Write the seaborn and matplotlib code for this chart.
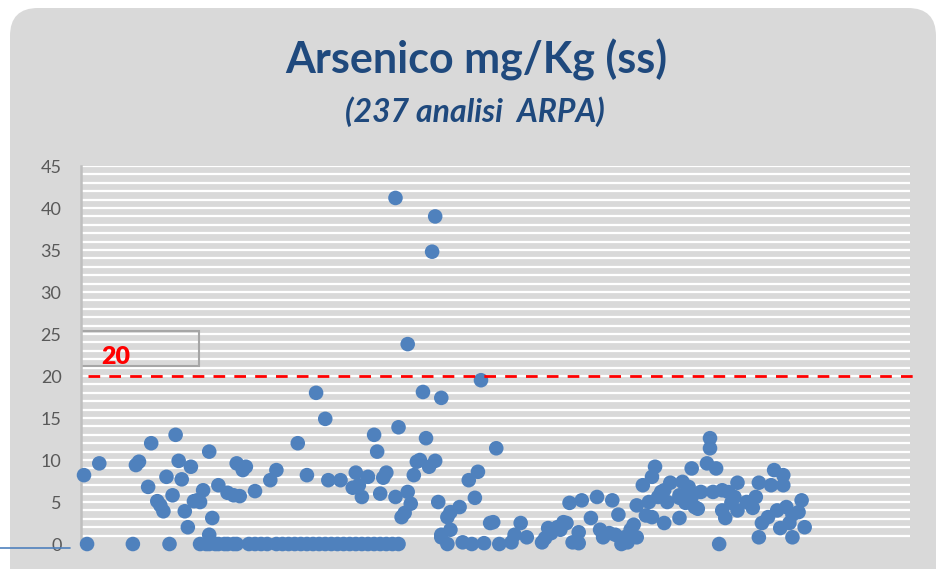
import pandas as pd
import matplotlib
matplotlib.use('Agg')
import matplotlib.pyplot as plt
import seaborn as sns
from matplotlib.patches import FancyBboxPatch, Rectangle
from matplotlib.lines import Line2D
from matplotlib.transforms import IdentityTransform

# Dati: numero progressivo del campione e arsenico (mg/Kg ss)
campione = [
    1, 2, 6, 17, 18, 19, 22, 23, 25, 26, 27, 28, 29, 30, 31, 32, 33, 34, 35, 36,
    37, 38, 39, 39, 40, 41, 42, 42, 42, 43, 44, 45, 45, 47, 48, 48, 50, 50, 51, 51,
    52, 53, 54, 55, 57, 57, 59, 61, 62, 64, 64, 66, 68, 70, 71, 72, 74, 74, 76, 77,
    78, 80, 80, 81, 82, 84, 85, 86, 88, 89, 90, 90, 91, 92, 92, 94, 94, 96, 96, 97,
    98, 98, 99, 100, 100, 102, 103, 103, 104, 104, 105, 106, 107, 107, 108, 109, 110, 111, 112, 113,
    114, 115, 116, 116, 117, 118, 118, 118, 120, 120, 121, 121, 124, 125, 127, 128, 129, 130, 131, 132,
    134, 135, 136, 137, 141, 142, 144, 146, 151, 152, 153, 154, 156, 157, 158, 159, 160, 161, 163, 163,
    164, 167, 169, 170, 171, 173, 174, 175, 176, 177, 178, 179, 180, 181, 182, 182, 184, 185, 186, 187,
    187, 188, 189, 190, 191, 191, 192, 193, 196, 196, 196, 197, 198, 198, 199, 199, 200, 200, 201, 202,
    203, 205, 206, 206, 207, 208, 209, 210, 210, 211, 212, 213, 214, 215, 215, 218, 220, 221, 222, 222,
    223, 225, 226, 227, 228, 229, 230, 230, 231, 232, 233, 233, 235, 236, 237,
]
arsenico = [
    8.2, 0, 9.6, 0, 9.4, 9.8, 6.8, 12.0, 5.1, 4.6, 3.9, 8.0, 0, 5.8, 13.0, 9.9, 7.7, 3.9, 2.0, 9.2,
    5.1, 5.2, 5.0, 0, 6.4, 0, 11.0, 1.1, 0, 3.1, 0, 7.0, 0, 0, 6.1, 0, 5.8, 0, 9.6, 0,
    5.7, 8.8, 9.2, 0, 6.3, 0, 0, 0, 7.6, 8.8, 0, 0, 0, 0, 12.0, 0, 8.2, 0, 0, 18.0,
    0, 14.9, 0, 7.6, 0, 0, 7.6, 0, 0, 6.7, 8.5, 0, 7.0, 5.6, 0, 8.0, 0, 13.0, 0, 11.0,
    6.0, 0, 7.9, 8.5, 0, 0, 41.2, 5.6, 13.9, 0, 3.2, 3.7, 6.2, 23.8, 4.8, 8.2, 9.8, 10.0, 18.1, 12.6,
    9.2, 34.8, 39.0, 9.9, 5.0, 17.4, 1.1, 0.8, 0, 3.2, 3.8, 1.7, 4.4, 0.2, 7.6, 0, 5.5, 8.6, 19.5, 0.1,
    2.5, 2.6, 11.4, 0, 0.2, 1.1, 2.5, 0.8, 0.2, 0.7, 1.9, 1.3, 2.0, 1.7, 2.6, 2.5, 4.9, 0.2, 1.4, 0.1,
    5.2, 3.1, 5.6, 1.7, 0.8, 1.3, 5.2, 1.1, 3.5, 0, 0.8, 0.2, 1.7, 2.3, 0.8, 4.6, 7.0, 3.4, 5.0, 8.0,
    3.2, 9.2, 5.6, 6.2, 6.4, 2.5, 5.0, 7.3, 5.5, 3.1, 5.8, 7.4, 5.8, 4.9, 6.8, 5.2, 9.0, 5.6, 4.4, 4.2,
    6.2, 9.6, 12.6, 11.4, 6.2, 9.0, 0, 6.4, 4.0, 3.1, 6.2, 4.9, 5.6, 7.3, 4.0, 5.0, 4.3, 5.6, 7.3, 0.8,
    2.5, 3.2, 7.0, 8.8, 4.0, 1.9, 8.2, 7.0, 4.4, 2.5, 3.5, 0.8, 3.8, 5.2, 2.0,
]
limite = 20
y_ticks = [0, 5, 10, 15, 20, 25, 30, 35, 40, 45]

df = pd.DataFrame({'campione': campione, 'arsenico': arsenico})

sns.set_style('white')
plt.rcParams['font.family'] = ['Lato', 'DejaVu Sans']

grigio = '#d9d9d9'
blu_titolo = '#1f497d'

fig = plt.figure(figsize=(9.37, 5.69), dpi=100, facecolor='white')

# pannello grigio con angoli arrotondati
pannello = FancyBboxPatch((10, -30), 926, 591, boxstyle='round,pad=0,rounding_size=28',
                          facecolor=grigio, edgecolor='none', transform=IdentityTransform(),
                          zorder=-5)
fig.add_artist(pannello)
fig.add_artist(Line2D([0, 0.075], [0.037, 0.037], color='#4f81bd', lw=1.2))

ax = fig.add_axes([0.0864, 0.0439, 0.8848, 0.6643])
ax.set_facecolor(grigio)

# griglia orizzontale bianca ogni unità
for v in range(1, 46):
    ax.axhline(v, color='white', lw=1.6, zorder=1)

sns.scatterplot(data=df, x='campione', y='arsenico', ax=ax, s=110, color='#4f81bd',
                edgecolor='none', linewidth=0, zorder=3, clip_on=False, legend=False)

ax.plot([2.3, 274], [limite, limite], color='#ff0000', lw=2, ls=(0, (4.2, 3.3)),
        zorder=4, clip_on=False)
ax.add_patch(Rectangle((0, 21.2), 38.6, 4.2, fill=False, edgecolor='#a6a6a6', lw=1.5, zorder=2))
ax.text(11.3, 22.3, str(limite), color='#ff0000', fontsize=18, fontweight='heavy',
        ha='center', va='center', zorder=5)

ax.set_xlim(0, 271.5)
ax.set_ylim(0, 45)
ax.set_yticks(y_ticks)
ax.set_xticks([])
ax.tick_params(axis='y', length=0, pad=14, labelsize=13, labelcolor='#595959')
ax.set_xlabel('')
ax.set_ylabel('')
for s in ['top', 'right', 'bottom']:
    ax.spines[s].set_visible(False)
ax.spines['left'].set_color('#bfbfbf')
ax.spines['left'].set_linewidth(1.8)

fig.text(0.508, 0.895, 'Arsenico mg/Kg (ss)', color=blu_titolo, fontsize=31,
         fontweight='bold', ha='center', va='center')
fig.text(0.507, 0.803, '(237 analisi  ARPA)', color=blu_titolo, fontsize=23,
         fontweight='bold', fontstyle='italic', ha='center', va='center')

fig.savefig('out.png', dpi=100, facecolor='white')
